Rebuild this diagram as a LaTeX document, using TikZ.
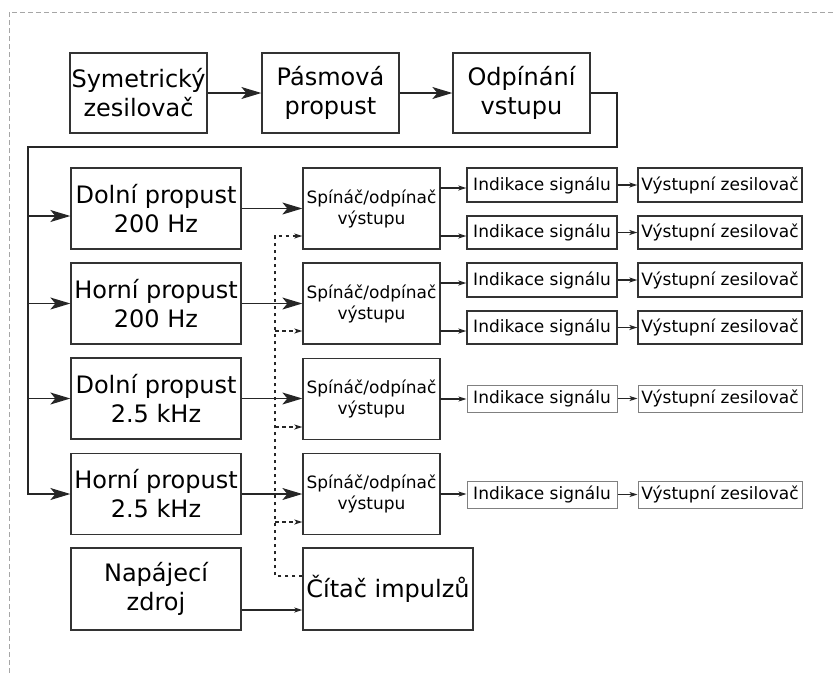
\documentclass[tikz,border=0pt]{standalone}
\usepackage{fontspec}
\setmainfont{DejaVu Sans}
\usetikzlibrary{arrows.meta}
\tikzset{
  box/.style={draw=black!80, line width=1.3pt, inner sep=0pt, align=center},
  bigbox/.style={box, font=\fontsize{24}{29}\selectfont},
  midbox/.style={box, font=\fontsize{17}{21}\selectfont, minimum width=137pt, minimum height=81pt},
  smallbox/.style={box, font=\fontsize{17}{21}\selectfont},
  lightbox/.style={smallbox, draw=black!50, line width=1pt},
  wire/.style={draw=black!85, line width=1.3pt},
  bigarrow/.style={wire, -{Stealth[length=20pt,width=12pt,inset=5pt]}},
  smallarrow/.style={wire, -{Stealth[length=8pt,width=5pt,inset=2pt]}},
  dasharrow/.style={draw=black!85, line width=1.2pt, dash pattern=on 3.5pt off 3.5pt, -{Stealth[length=8pt,width=5pt,inset=2pt]}},
  dashwire/.style={draw=black!85, line width=1.2pt, dash pattern=on 3.5pt off 3.5pt},
  frameline/.style={draw=black!35, line width=1pt, dash pattern=on 5pt off 3pt}
}
\begin{document}
\begin{tikzpicture}[x=1pt,y=-1pt]
\useasboundingbox (0,0) rectangle (833,673);
\draw[frameline] (9,673) -- (9,12) -- (833,12);

% top row
\node[bigbox, minimum width=137pt, minimum height=80pt] (sym) at (138.5,93) {Symetrický\\zesilovač};
\node[bigbox, minimum width=137pt, minimum height=80pt] (pas) at (330.5,93) {Pásmová\\propust};
\node[bigbox, minimum width=137pt, minimum height=80pt] (odp) at (521.5,93) {Odpínání\\vstupu};

% filters
\node[bigbox, minimum width=170pt, minimum height=81pt] (f1) at (156,208.5) {Dolní propust\\200 Hz};
\node[bigbox, minimum width=170pt, minimum height=81pt] (f2) at (156,303.5) {Horní propust\\200 Hz};
\node[bigbox, minimum width=170pt, minimum height=81pt] (f3) at (156,398.5) {Dolní propust\\2.5 kHz};
\node[bigbox, minimum width=170pt, minimum height=81pt] (f4) at (156,494) {Horní propust\\2.5 kHz};
\node[bigbox, minimum width=170pt, minimum height=82pt] (nap) at (156,589) {Napájecí\\zdroj};

% switches
\node[midbox] (s1) at (371.5,208.5) {Spínáč/odpínač\\výstupu};
\node[midbox] (s2) at (371.5,303.5) {Spínáč/odpínač\\výstupu};
\node[midbox] (s3) at (371.5,399) {Spínáč/odpínač\\výstupu};
\node[midbox] (s4) at (371.5,494) {Spínáč/odpínač\\výstupu};
\node[bigbox, minimum width=170pt, minimum height=82pt] (cit) at (388,589) {Čítač impulzů};

% indication
\node[smallbox, minimum width=150pt, minimum height=34pt] (i1) at (542,185) {Indikace signálu};
\node[smallbox, minimum width=150pt, minimum height=33pt] (i2) at (542,232.5) {Indikace signálu};
\node[smallbox, minimum width=150pt, minimum height=34pt] (i3) at (542,280) {Indikace signálu};
\node[smallbox, minimum width=150pt, minimum height=33pt] (i4) at (542,327.5) {Indikace signálu};
\node[lightbox, minimum width=150pt, minimum height=27pt] (i5) at (542,398.5) {Indikace signálu};
\node[lightbox, minimum width=150pt, minimum height=27pt] (i6) at (542,494.5) {Indikace signálu};

\node[smallbox, minimum width=164pt, minimum height=34pt] (v1) at (720,185) {Výstupní zesilovač};
\node[smallbox, minimum width=164pt, minimum height=33pt] (v2) at (720,232.5) {Výstupní zesilovač};
\node[smallbox, minimum width=164pt, minimum height=34pt] (v3) at (720,280) {Výstupní zesilovač};
\node[smallbox, minimum width=164pt, minimum height=33pt] (v4) at (720,327.5) {Výstupní zesilovač};
\node[lightbox, minimum width=164pt, minimum height=27pt] (v5) at (720,398.5) {Výstupní zesilovač};
\node[lightbox, minimum width=164pt, minimum height=27pt] (v6) at (720,494.5) {Výstupní zesilovač};

% top chain
\draw[bigarrow] (sym) -- (pas);
\draw[bigarrow] (pas) -- (odp);

% bus
\coordinate (busR) at (617,147);
\coordinate (busL) at (28,147);
\coordinate (b1) at (28,216);
\coordinate (b2) at (28,303.5);
\coordinate (b3) at (28,398.5);
\draw[bigarrow] (odp.east) -| (busR) -- (busL) |- (f4.west);
\draw[bigarrow] (b1) -- (b1 -| f1.west);
\draw[bigarrow] (b2) -- (f2.west);
\draw[bigarrow] (b3) -- (f3.west);

% filters to switches
\draw[bigarrow] (f1.east) -- (f1.east -| s1.west);
\draw[bigarrow] (f2.east) -- (f2.east -| s2.west);
\draw[bigarrow] (f3.east) -- (f3.east -| s3.west);
\draw[bigarrow] (f4.east) -- (f4.east -| s4.west);

% switches to indication
\coordinate (o1) at (440,188);
\coordinate (o2) at (440,236);
\coordinate (o3) at (440,283);
\coordinate (o4) at (440,331);
\coordinate (o5) at (440,399);
\coordinate (o6) at (440,494);
\draw[smallarrow] (o1) -- (o1 -| i1.west);
\draw[smallarrow] (o2) -- (o2 -| i2.west);
\draw[smallarrow] (o3) -- (o3 -| i3.west);
\draw[smallarrow] (o4) -- (o4 -| i4.west);
\draw[smallarrow] (o5) -- (o5 -| i5.west);
\draw[smallarrow] (o6) -- (o6 -| i6.west);

% indication to output amplifiers
\draw[smallarrow] (i1) -- (v1);
\draw[smallarrow] (i2) -- (v2);
\draw[smallarrow] (i3) -- (v3);
\draw[smallarrow] (i4) -- (v4);
\draw[smallarrow] (i5) -- (v5);
\draw[smallarrow] (i6) -- (v6);

% counter control (dashed)
\coordinate (d1) at (275,236);
\coordinate (d2) at (275,331);
\coordinate (d3) at (275,427);
\coordinate (d4) at (275,522);
\draw[dasharrow] ([yshift=13pt]cit.west) -| (d1) -- (d1 -| s1.west);
\draw[dasharrow] (d2) -- (d2 -| s2.west);
\draw[dasharrow] (d3) -- (d3 -| s3.west);
\draw[dasharrow] (d4) -- (d4 -| s4.west);

% power
\draw[smallarrow] ([yshift=-21pt]nap.east) -- ([yshift=-21pt]cit.west);
\end{tikzpicture}
\end{document}
